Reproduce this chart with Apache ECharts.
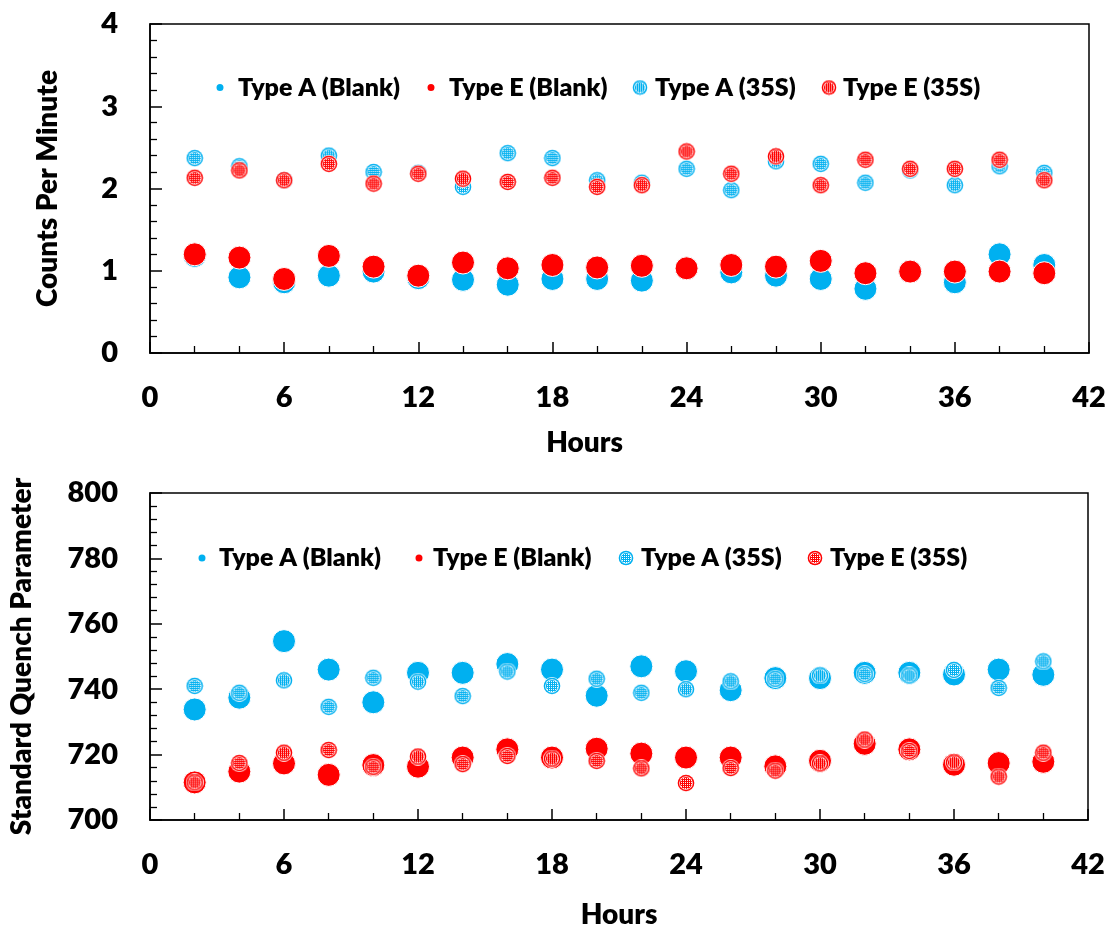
<!DOCTYPE html>
<html>
<head>
<meta charset="utf-8">
<script src="https://cdn.jsdelivr.net/npm/echarts@6/dist/echarts.min.js"></script>
<style>
  html, body { margin: 0; padding: 0; background: #fff; }
  #chart { width: 1109px; height: 930px; }
</style>
</head>
<body>
<div id="chart"></div>
<script>
// Sampling times (hours)
const hours = [2, 4, 6, 8, 10, 12, 14, 16, 18, 20, 22, 24, 26, 28, 30, 32, 34, 36, 38, 40];

// Counts per minute
const cpmTypeABlank = [1.18, 0.92, 0.86, 0.94, 0.99, 0.91, 0.89, 0.83, 0.90, 0.90, 0.88, 1.03, 0.98, 0.94, 0.90, 0.78, 0.99, 0.86, 1.20, 1.07];
const cpmTypeEBlank = [1.20, 1.16, 0.90, 1.18, 1.05, 0.94, 1.10, 1.03, 1.07, 1.04, 1.06, 1.03, 1.07, 1.05, 1.12, 0.97, 0.99, 0.99, 0.99, 0.97];
const cpmTypeA35S   = [2.37, 2.27, 2.10, 2.40, 2.20, 2.19, 2.02, 2.43, 2.37, 2.10, 2.07, 2.24, 1.98, 2.33, 2.30, 2.07, 2.22, 2.04, 2.27, 2.19];
const cpmTypeE35S   = [2.13, 2.22, 2.10, 2.30, 2.06, 2.18, 2.12, 2.08, 2.13, 2.02, 2.04, 2.45, 2.18, 2.39, 2.04, 2.35, 2.24, 2.24, 2.35, 2.10];

// Standard quench parameter
const sqpTypeABlank = [733.8, 737.4, 754.7, 746.0, 736.0, 745.0, 745.0, 747.7, 746.0, 738.0, 747.0, 745.5, 739.7, 743.4, 743.4, 745.0, 745.0, 744.5, 746.0, 744.4];
const sqpTypeEBlank = [711.5, 714.8, 717.3, 713.8, 716.8, 716.3, 719.1, 721.6, 719.1, 721.8, 720.3, 719.1, 719.1, 716.4, 718.1, 723.3, 721.6, 716.9, 717.4, 717.8];
const sqpTypeA35S   = [741.0, 738.9, 742.7, 734.6, 743.5, 742.3, 737.9, 745.4, 741.0, 743.2, 738.9, 740.0, 742.4, 743.2, 744.2, 744.6, 744.2, 745.9, 740.4, 748.5];
const sqpTypeE35S   = [711.5, 717.4, 720.6, 721.4, 716.3, 719.4, 717.1, 719.6, 718.8, 718.1, 715.8, 711.3, 715.9, 715.1, 717.3, 724.6, 721.1, 717.6, 713.3, 720.6];

// Legend / series names
const seriesNames = ['Type A (Blank)', 'Type E (Blank)', 'Type A (35S)', 'Type E (35S)'];

const BLUE = '#00B0F0';
const RED = '#FF0000';
const FONT = 'Lato, "Open Sans", sans-serif';
const WEIGHT = 800;

// Dotted-fill marker used for the 35S samples
function patternMarker(color, size) {
  const c = document.createElement('canvas');
  c.width = c.height = size;
  const g = c.getContext('2d');
  const r = size / 2;
  g.beginPath(); g.arc(r, r, r, 0, Math.PI * 2); g.fillStyle = '#fff'; g.fill();
  g.beginPath(); g.arc(r, r, r - 0.7, 0, Math.PI * 2); g.fillStyle = color; g.fill();
  g.beginPath(); g.arc(r, r, r - 2.2, 0, Math.PI * 2); g.fillStyle = '#fff'; g.fill();
  g.save();
  g.beginPath(); g.arc(r, r, r - 2.9, 0, Math.PI * 2); g.clip();
  g.fillStyle = color;
  for (let y = 0; y < size; y++) {
    for (let x = 0; x < size; x++) {
      if (!(x % 2 === 0 && y % 2 === 0)) g.fillRect(x, y, 1, 1);
    }
  }
  g.restore();
  return 'image://' + c.toDataURL();
}

const markA35 = patternMarker(BLUE, 18);
const markE35 = patternMarker(RED, 18);
const legendA35 = patternMarker(BLUE, 16);
const legendE35 = patternMarker(RED, 16);

function pairs(ys) { return hours.map((h, i) => [h, ys[i]]); }

const labelStyle = { color: '#000', fontFamily: FONT, fontWeight: WEIGHT, fontSize: 29 };
const titleStyle = { color: '#000', fontFamily: FONT, fontWeight: WEIGHT, fontSize: 28 };

// shiftLeft moves the axis title left of the axis centre
function xAxisFor(gridIndex, gap, shiftLeft) {
  return {
    type: 'value', gridIndex, min: 0, max: 42, interval: 6,
    name: 'Hours', nameLocation: 'middle', nameGap: gap,
    nameTextStyle: Object.assign({ padding: [0, shiftLeft * 2, 0, 0] }, titleStyle),
    axisLine: { show: true, onZero: false, lineStyle: { color: '#000', width: 1.5 } },
    axisTick: { show: true, inside: true, length: 11, lineStyle: { color: '#000', width: 1.5 } },
    minorTick: { show: true, splitNumber: 3, length: 7, lineStyle: { color: '#000', width: 1.3 } },
    splitLine: { show: false },
    axisLabel: Object.assign({ margin: 30 }, labelStyle)
  };
}

function yAxisFor(gridIndex, min, max, interval, name, gap) {
  return {
    type: 'value', gridIndex, min, max, interval,
    name, nameLocation: 'middle', nameGap: gap, nameTextStyle: titleStyle,
    axisLine: { show: true, onZero: false, lineStyle: { color: '#000', width: 1.5 } },
    axisTick: { show: true, inside: true, length: 12, lineStyle: { color: '#000', width: 1.5 } },
    minorTick: { show: true, splitNumber: 5, length: 7, lineStyle: { color: '#000', width: 1.3 } },
    splitLine: { show: false },
    axisLabel: Object.assign({ margin: 32 }, labelStyle)
  };
}

function blankSeries(name, idx, ys, color) {
  return {
    name, type: 'scatter', xAxisIndex: idx, yAxisIndex: idx, data: pairs(ys),
    symbol: 'circle', symbolSize: 23,
    itemStyle: { color, borderColor: '#fff', borderWidth: 1, opacity: 1 },
    emphasis: { disabled: true }
  };
}
function s35Series(name, idx, ys, mark) {
  return {
    name, type: 'scatter', xAxisIndex: idx, yAxisIndex: idx, data: pairs(ys),
    symbol: mark, symbolSize: 18,
    itemStyle: { opacity: 1 },
    emphasis: { disabled: true }
  };
}

// One legend component per entry so each entry sits where it belongs.
// iconCx: icon centre x, textX: where the label starts, d: icon diameter.
const LEGEND_LH = 30;
function legendEntry(name, icon, iconCx, textX, centerY, d) {
  const left = iconCx - d / 2;
  const pad = textX - (left + d + 5);
  return {
    data: [{ name, icon }], left, top: centerY - LEGEND_LH / 2, padding: 0,
    itemWidth: d, itemHeight: d, selectedMode: false,
    textStyle: {
      color: '#000', fontFamily: FONT, fontWeight: WEIGHT, fontSize: 25,
      lineHeight: LEGEND_LH, padding: [0, 0, 0, pad]
    }
  };
}

const legends = [
  legendEntry(seriesNames[0], 'circle', 219, 237, 87.5, 9),
  legendEntry(seriesNames[1], 'circle', 430, 448, 87.5, 9),
  legendEntry(seriesNames[2], legendA35, 640, 655, 87.5, 16),
  legendEntry(seriesNames[3], legendE35, 829, 843, 87.5, 16),
  legendEntry(seriesNames[0], 'circle', 201, 218, 558, 9),
  legendEntry(seriesNames[1], 'circle', 418, 432, 558, 9),
  legendEntry(seriesNames[2], legendA35, 626, 641, 558, 16),
  legendEntry(seriesNames[3], legendE35, 815, 830, 558, 16)
];

const chart = echarts.init(document.getElementById('chart'), null, { renderer: 'canvas' });
chart.setOption({
  animation: false,
  backgroundColor: '#fff',
  legend: legends,
  grid: [
    { left: 150, top: 24, width: 939, height: 329, show: true, borderColor: '#000', borderWidth: 1.5, backgroundColor: 'transparent' },
    { left: 150, top: 493, width: 938, height: 332, show: true, borderColor: '#000', borderWidth: 1.5, backgroundColor: 'transparent' }
  ],
  xAxis: [xAxisFor(0, 76, 35), xAxisFor(1, 81, 0)],
  yAxis: [
    yAxisFor(0, 0, 4, 1, 'Counts Per Minute', 88),
    yAxisFor(1, 700, 800, 20, 'Standard Quench Parameter', 114)
  ],
  series: [
    blankSeries(seriesNames[0], 0, cpmTypeABlank, BLUE),
    blankSeries(seriesNames[1], 0, cpmTypeEBlank, RED),
    s35Series(seriesNames[2], 0, cpmTypeA35S, markA35),
    s35Series(seriesNames[3], 0, cpmTypeE35S, markE35),
    blankSeries(seriesNames[0], 1, sqpTypeABlank, BLUE),
    blankSeries(seriesNames[1], 1, sqpTypeEBlank, RED),
    s35Series(seriesNames[2], 1, sqpTypeA35S, markA35),
    s35Series(seriesNames[3], 1, sqpTypeE35S, markE35)
  ]
});
</script>
</body>
</html>
